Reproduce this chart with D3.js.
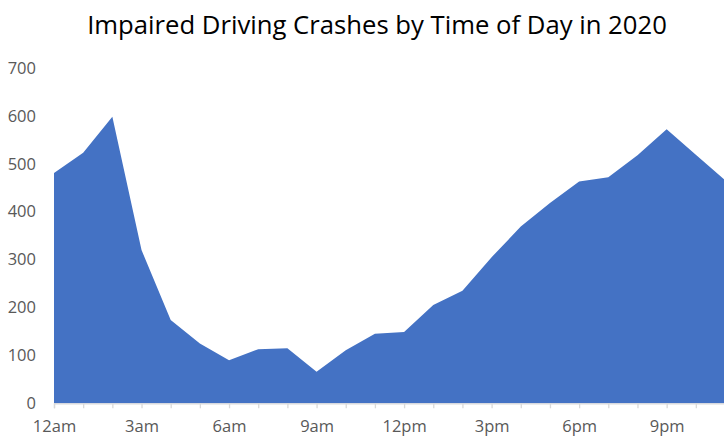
<!DOCTYPE html>
<html>
<head>
<meta charset="utf-8">
<script src="https://cdn.jsdelivr.net/npm/d3@7"></script>
<style>
  html, body { margin: 0; padding: 0; background: #fff; }
  svg { display: block; }
</style>
</head>
<body>
<svg id="chart" width="724" height="436"></svg>
<script>
const title = "Impaired Driving Crashes by Time of Day in 2020";
const hours = d3.range(0, 24);
const crashes = [481, 523, 598, 320, 174, 125, 90, 113, 115, 66, 111, 145,
                 149, 205, 235, 305, 369, 418, 463, 472, 518, 572, 519, 466];
const hourLabels = ["12am", "", "", "3am", "", "", "6am", "", "", "9am", "", "",
                    "12pm", "", "", "3pm", "", "", "6pm", "", "", "9pm", "", ""];
const yTicks = [0, 100, 200, 300, 400, 500, 600, 700];

const svg = d3.select("#chart");
const x = d3.scaleLinear().domain([0, 23]).range([54, 725]);
const y = d3.scaleLinear().domain([0, 700]).range([403.3, 68]);

const area = d3.area()
  .x((d, i) => x(hours[i]))
  .y0(y(0))
  .y1(d => y(d));

svg.append("path")
  .datum(crashes)
  .attr("d", area)
  .attr("fill", "#4472C4");

// x axis
const xAxis = d3.axisBottom(x)
  .tickValues(hours)
  .tickSize(5)
  .tickFormat((d) => hourLabels[d]);
const gx = svg.append("g")
  .attr("transform", `translate(0,${y(0)})`)
  .call(xAxis);
gx.select(".domain").attr("stroke", "#d9d9d9").attr("stroke-width", 1.3);
gx.selectAll(".tick line").attr("stroke", "#d9d9d9").attr("stroke-width", 1.3);
gx.selectAll(".tick text")
  .attr("y", 17)
  .attr("dy", "0.71em")
  .attr("fill", "#595959")
  .style("font-family", "'Open Sans', sans-serif")
  .style("font-size", "16.5px");

// y axis (labels only)
const yAxis = d3.axisLeft(y).tickValues(yTicks).tickSize(0).tickPadding(0);
const gy = svg.append("g")
  .attr("transform", "translate(36,0)")
  .call(yAxis);
gy.select(".domain").remove();
gy.selectAll(".tick text")
  .attr("fill", "#595959")
  .style("font-family", "'Open Sans', sans-serif")
  .style("font-size", "16.5px");

// title
const t = svg.append("text")
  .attr("x", 377)
  .attr("y", 33.5)
  .attr("text-anchor", "middle")
  .attr("fill", "#000")
  .style("font-family", "'Open Sans', sans-serif")
  .style("font-size", "28px")
  .text(title);
const w = t.node().getComputedTextLength();
t.style("font-size", (28 * 580 / w) + "px");
</script>
</body>
</html>
